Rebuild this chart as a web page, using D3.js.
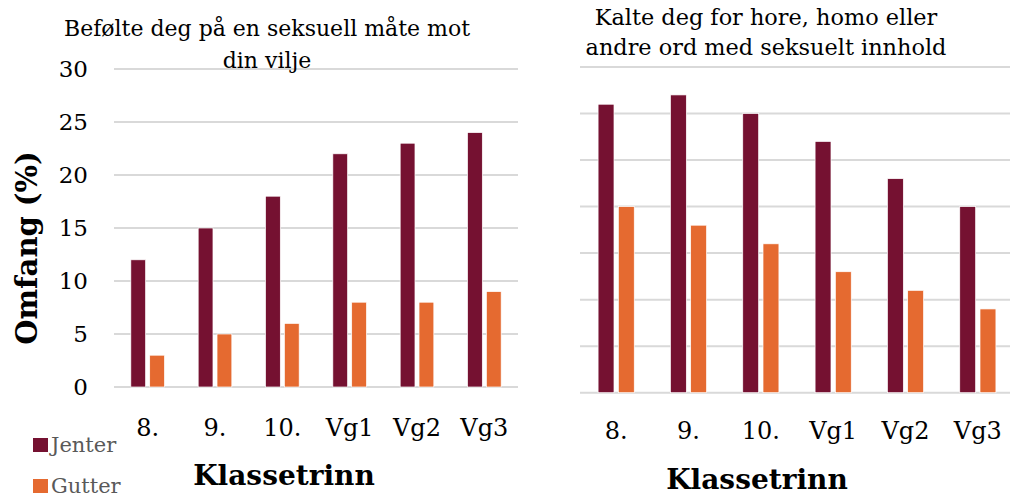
<!DOCTYPE html>
<html lang="en">
<head>
  <meta charset="utf-8">
  <title>Klassetrinn</title>
  <script src="https://d3js.org/d3.v7.min.js"></script>
  <style>
    body { margin: 0; background: #fff; }
    svg text { font-family: "DejaVu Serif", "Liberation Serif", serif; fill: #000; }
    .grid line { stroke: #d9d9d9; stroke-width: 2; }
  </style>
</head>
<body>
  <script>
    var width = 1010, height = 497;
    var serif = "DejaVu Serif, Liberation Serif, serif";

    // data
    var classes = ["8.", "9.", "10.", "Vg1", "Vg2", "Vg3"];
    var series = ["Jenter", "Gutter"];
    var colors = ["#751131", "#e56a30"];
    var touchedGirls = [12, 15, 18, 22, 23, 24];
    var touchedBoys = [3, 5, 6, 8, 8, 9];
    var calledGirls = [31, 32, 30, 27, 23, 20];
    var calledBoys = [20, 18, 16, 13, 11, 9];
    var leftTicks = [0, 5, 10, 15, 20, 25, 30];
    var rightTicks = [0, 5, 10, 15, 20, 25, 30, 35];

    var svg = d3.select("body").append("svg")
      .attr("width", width)
      .attr("height", height);

    function panel(opt) {
      var g = svg.append("g");
      var x = d3.scaleBand().domain(classes).range(opt.xr);
      var y = d3.scaleLinear().domain([0, d3.max(opt.ticks)]).range(opt.yr);

      //gridlines
      g.append("g").attr("class", "grid")
        .selectAll("line").data(opt.ticks).enter().append("line")
        .attr("x1", opt.xr[0]).attr("x2", opt.gridEnd)
        .attr("y1", d => y(d)).attr("y2", d => y(d));

      if (opt.labels) {
        g.selectAll(".ytick").data(opt.ticks).enter().append("text")
          .attr("x", 88).attr("y", d => y(d))
          .attr("dy", "0.35em")
          .attr("text-anchor", "end")
          .attr("font-family", serif)
          .style("font-size", "23px")
          .text(d => d);
      }

      var bw = x.bandwidth() * 0.22, gap = x.bandwidth() * 0.06;
      [opt.girls, opt.boys].forEach(function(vals, s) {
        g.selectAll(".bar" + s).data(vals).enter().append("rect")
          .attr("x", (d, i) => x(classes[i]) + x.bandwidth() / 2 + (s === 0 ? -gap / 2 - bw : gap / 2))
          .attr("width", bw)
          .attr("y", d => y(d))
          .attr("height", d => y(0) - y(d))
          .attr("fill", colors[s])
          .attr("stroke", "#fff")
          .attr("stroke-width", 0.7);
      });

      g.selectAll(".xtick").data(classes).enter().append("text")
        .attr("x", d => x(d) + x.bandwidth() / 2)
        .attr("y", opt.xLabelY)
        .attr("text-anchor", "middle")
        .attr("font-family", serif)
        .style("font-size", "24px")
        .text(d => d);

      g.append("text")
        .attr("x", opt.xTitleX).attr("y", opt.xTitleY)
        .attr("text-anchor", "middle")
        .attr("font-family", serif)
        .style("font-size", "28px").style("font-weight", "bold")
        .text("Klassetrinn");

      g.selectAll(".title").data(opt.title).enter().append("text")
        .attr("x", opt.titleX)
        .attr("y", (d, i) => opt.titleY + i * opt.titleGap)
        .attr("text-anchor", "middle")
        .attr("font-family", serif)
        .style("font-size", opt.titleSize + "px")
        .text(d => d);
    }

    panel({
      xr: [114, 518], yr: [387, 69], gridEnd: 518, ticks: leftTicks, labels: true,
      girls: touchedGirls, boys: touchedBoys,
      xLabelY: 436, xTitleX: 284, xTitleY: 485,
      title: ["Befølte deg på en seksuell måte mot", "din vilje"],
      titleX: 267, titleY: 36, titleGap: 32, titleSize: 22
    });

    panel({
      xr: [580, 1014], yr: [392.7, 67], gridEnd: 1010, ticks: rightTicks, labels: false,
      girls: calledGirls, boys: calledBoys,
      xLabelY: 439, xTitleX: 757, xTitleY: 489,
      title: ["Kalte deg for hore, homo eller", "andre ord med seksuelt innhold"],
      titleX: 766, titleY: 25, titleGap: 30, titleSize: 22.4
    });

    // y axis title
    svg.append("text")
      .attr("transform", "translate(37,248) rotate(-90)")
      .attr("text-anchor", "middle")
      .attr("font-family", serif)
      .style("font-size", "29px").style("font-weight", "bold")
      .text("Omfang (%)");

    // legend
    var legend = svg.append("g").selectAll("g").data(series).enter().append("g")
      .attr("transform", (d, i) => "translate(33," + (438 + i * 41) + ")");
    legend.append("rect")
      .attr("width", 15).attr("height", 14)
      .attr("fill", (d, i) => colors[i]);
    legend.append("text")
      .attr("x", 18).attr("y", 7).attr("dy", "0.35em")
      .attr("font-family", serif)
      .style("font-size", "21px")
      .style("fill", "#595959")
      .text(d => d);
  </script>
</body>
</html>
